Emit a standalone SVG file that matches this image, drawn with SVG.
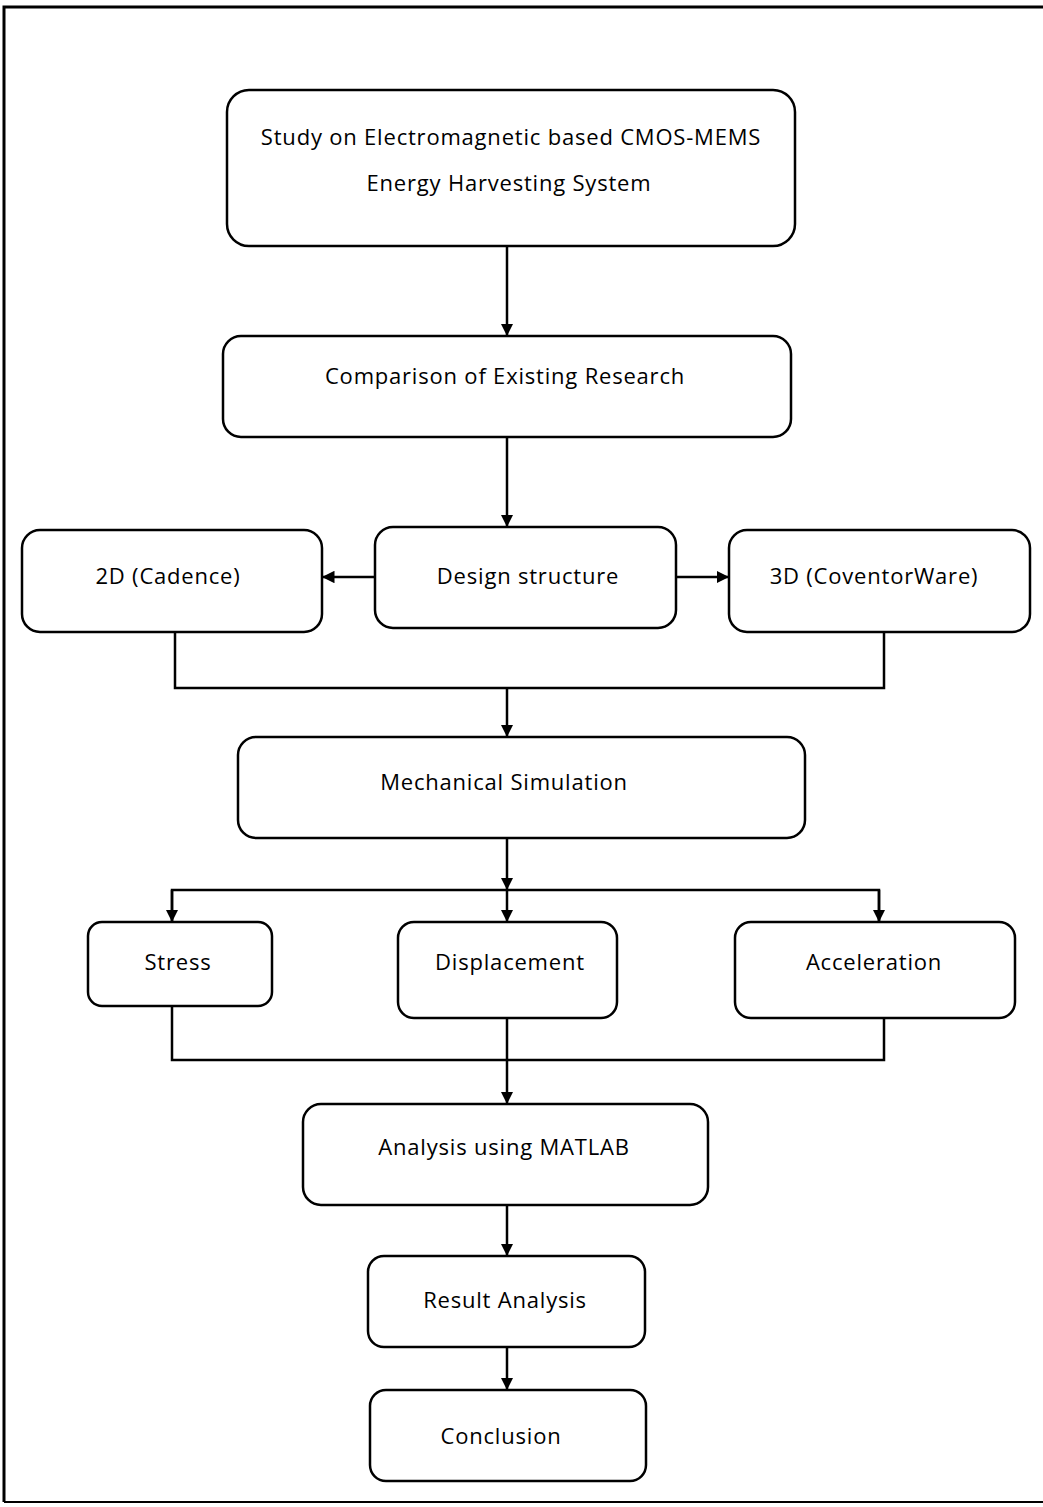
<svg xmlns="http://www.w3.org/2000/svg" width="1043" height="1507" viewBox="0 0 1043 1507">
<style>
.box{fill:#fff;stroke:#000;stroke-width:2.5}
.lbl{font-family:"Open Sans","Liberation Sans",sans-serif;font-size:22px;fill:#000;text-anchor:middle;letter-spacing:0.8px}
.ln{fill:none;stroke:#000;stroke-width:2.5}
</style>
<defs>
<marker id="ah" viewBox="0 0 10 10" refX="10" refY="5" markerWidth="5" markerHeight="5" orient="auto" markerUnits="strokeWidth">
<path d="M0,0 L10,5 L0,10 z" fill="#000"/>
</marker>
</defs>
<rect x="0" y="0" width="1043" height="1507" fill="#fff"/>
<path d="M4,1502 L4,7 L1043,7" fill="none" stroke="#000" stroke-width="3"/>
<line x1="4" y1="1502" x2="1043" y2="1502" stroke="#000" stroke-width="2"/>

<g id="connectors">
<line class="ln" x1="507" y1="246" x2="507" y2="336" marker-end="url(#ah)"/>
<line class="ln" x1="507" y1="437" x2="507" y2="527" marker-end="url(#ah)"/>
<line class="ln" x1="375" y1="577" x2="322" y2="577" marker-end="url(#ah)"/>
<line class="ln" x1="676" y1="577" x2="729" y2="577" marker-end="url(#ah)"/>
<polyline class="ln" points="175,632 175,688 884,688 884,632"/>
<line class="ln" x1="507" y1="688" x2="507" y2="737" marker-end="url(#ah)"/>
<line class="ln" x1="507" y1="838" x2="507" y2="890" marker-end="url(#ah)"/>
<polyline class="ln" points="172,922 172,890 879,890 879,922"/>
<line class="ln" x1="172" y1="890" x2="172" y2="922" marker-end="url(#ah)"/>
<line class="ln" x1="879" y1="890" x2="879" y2="922" marker-end="url(#ah)"/>
<line class="ln" x1="507" y1="890" x2="507" y2="922" marker-end="url(#ah)"/>
<polyline class="ln" points="172,1006 172,1060 884,1060 884,1018"/>
<line class="ln" x1="507" y1="1018" x2="507" y2="1104" marker-end="url(#ah)"/>
<line class="ln" x1="507" y1="1205" x2="507" y2="1256" marker-end="url(#ah)"/>
<line class="ln" x1="507" y1="1347" x2="507" y2="1390" marker-end="url(#ah)"/>
</g>

<g id="n1"><rect class="box" x="227" y="90" width="568" height="156" rx="22"/>
<text class="lbl" x="511" y="145">Study on Electromagnetic based CMOS-MEMS</text>
<text class="lbl" x="509" y="191">Energy Harvesting System</text></g>
<g id="n2"><rect class="box" x="223" y="336" width="568" height="101" rx="18"/>
<text class="lbl" x="505" y="384">Comparison of Existing Research</text></g>
<g id="n3"><rect class="box" x="22" y="530" width="300" height="102" rx="18"/>
<text class="lbl" x="168" y="584">2D (Cadence)</text></g>
<g id="n4"><rect class="box" x="375" y="527" width="301" height="101" rx="18"/>
<text class="lbl" x="528" y="584">Design structure</text></g>
<g id="n5"><rect class="box" x="729" y="530" width="301" height="102" rx="18"/>
<text class="lbl" x="874" y="584">3D (CoventorWare)</text></g>
<g id="n6"><rect class="box" x="238" y="737" width="567" height="101" rx="18"/>
<text class="lbl" x="504" y="790">Mechanical Simulation</text></g>
<g id="n7"><rect class="box" x="88" y="922" width="184" height="84" rx="14"/>
<text class="lbl" x="178" y="970">Stress</text></g>
<g id="n8"><rect class="box" x="398" y="922" width="219" height="96" rx="16"/>
<text class="lbl" x="510" y="970">Displacement</text></g>
<g id="n9"><rect class="box" x="735" y="922" width="280" height="96" rx="16"/>
<text class="lbl" x="874" y="970">Acceleration</text></g>
<g id="n10"><rect class="box" x="303" y="1104" width="405" height="101" rx="18"/>
<text class="lbl" x="504" y="1155">Analysis using MATLAB</text></g>
<g id="n11"><rect class="box" x="368" y="1256" width="277" height="91" rx="16"/>
<text class="lbl" x="505" y="1308">Result Analysis</text></g>
<g id="n12"><rect class="box" x="370" y="1390" width="276" height="91" rx="16"/>
<text class="lbl" x="501" y="1444">Conclusion</text></g>
</svg>
